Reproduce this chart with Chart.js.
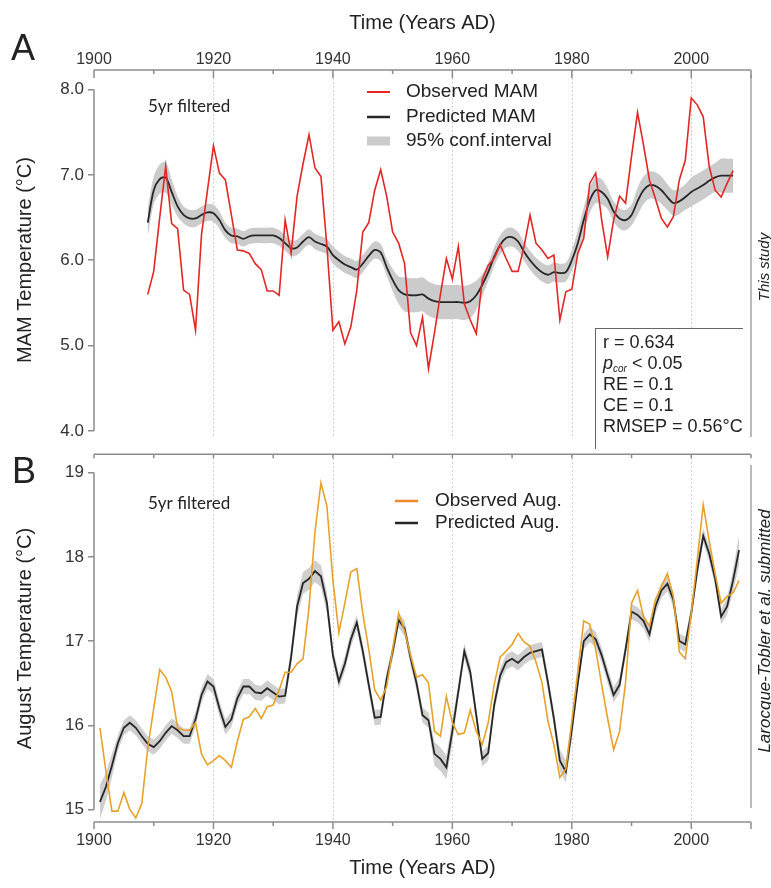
<!DOCTYPE html>
<html><head><meta charset="utf-8">
<script src="https://cdn.jsdelivr.net/npm/chart.js@4.4.1/dist/chart.umd.min.js"></script>
<style>
html,body{margin:0;padding:0;background:#fff;}
#wrap{position:relative;width:771px;height:888px;overflow:hidden;background:#fff;}
canvas{position:absolute;left:0;}
#cA{top:0;width:771px;height:450px;}
#cB{top:440px;width:771px;height:448px;}
</style></head><body>
<div id="wrap"><canvas id="cA" width="771" height="450"></canvas><canvas id="cB" width="771" height="448"></canvas></div>
<script>
// ---------- DATA ----------
const yearsA = [1909,1910,1911,1912,1913,1914,1915,1916,1917,1918,1919,1920,1921,1922,1923,1924,1925,1926,1927,1928,1929,1930,1931,1932,1933,1934,1935,1936,1937,1938,1939,1940,1941,1942,1943,1944,1945,1946,1947,1948,1949,1950,1951,1952,1953,1954,1955,1956,1957,1958,1959,1960,1961,1962,1963,1964,1965,1966,1967,1968,1969,1970,1971,1972,1973,1974,1975,1976,1977,1978,1979,1980,1981,1982,1983,1984,1985,1986,1987,1988,1989,1990,1991,1992,1993,1994,1995,1996,1997,1998,1999,2000,2001,2002,2003,2004,2005,2006,2007];
const observedMAM = [5.60,
 5.87,6.50,7.10,6.43,6.37,5.65,5.60,5.18,6.30,6.82,
 7.34,7.02,6.94,6.53,6.12,6.11,6.08,5.96,5.89,5.64,
 5.64,5.59,6.47,6.08,6.75,7.13,7.47,7.08,6.98,6.16,
 5.18,5.28,5.02,5.22,5.65,6.33,6.44,6.82,7.06,6.75,
 6.33,6.20,5.96,5.15,5.00,5.33,4.73,5.15,5.60,6.02,
 5.78,6.16,5.49,5.30,5.14,5.77,5.94,6.02,6.18,6.02,
 5.87,5.87,6.16,6.53,6.20,6.12,6.02,6.06,5.30,5.63,
 5.66,6.08,6.26,6.90,7.02,6.47,6.04,6.47,6.75,6.67,
 7.22,7.73,7.35,6.94,6.72,6.49,6.39,6.51,6.94,7.17,
 7.90,7.82,7.68,7.10,6.82,6.74,6.90,7.05];
const predictedMAM = [6.44,
 6.82,6.95,6.97,6.80,6.63,6.53,6.49,6.49,6.53,6.56,
 6.55,6.47,6.35,6.29,6.28,6.25,6.28,6.29,6.29,6.29,
 6.29,6.26,6.20,6.14,6.15,6.22,6.27,6.22,6.19,6.16,
 6.06,6.00,5.95,5.92,5.89,5.96,6.05,6.12,6.09,5.92,
 5.77,5.65,5.60,5.59,5.59,5.60,5.55,5.52,5.51,5.51,
 5.51,5.51,5.50,5.52,5.59,5.71,5.86,6.04,6.18,6.26,
 6.27,6.22,6.10,6.00,5.92,5.86,5.83,5.86,5.85,5.86,
 6.00,6.20,6.47,6.70,6.82,6.80,6.72,6.57,6.49,6.47,
 6.53,6.69,6.82,6.88,6.87,6.82,6.74,6.67,6.69,6.74,
 6.80,6.84,6.88,6.93,6.97,6.99,6.99,6.99];
// half-width of the 95% band
const ciHalfMAM = [0.17,
 0.16,0.17,0.18,0.15,0.12,0.10,0.10,0.10,0.10,0.10,
 0.10,0.10,0.09,0.09,0.09,0.09,0.09,0.09,0.09,0.09,
 0.09,0.09,0.09,0.09,0.09,0.09,0.09,0.09,0.09,0.09,
 0.10,0.10,0.10,0.10,0.10,0.10,0.10,0.10,0.10,0.10,
 0.13,0.16,0.20,0.20,0.20,0.20,0.20,0.20,0.20,0.20,
 0.20,0.20,0.20,0.20,0.17,0.13,0.11,0.11,0.11,0.11,
 0.11,0.11,0.11,0.11,0.11,0.11,0.11,0.11,0.11,0.11,
 0.12,0.15,0.15,0.15,0.15,0.15,0.12,0.12,0.12,0.12,
 0.12,0.16,0.16,0.16,0.16,0.16,0.15,0.15,0.15,0.15,
 0.17,0.17,0.17,0.17,0.17,0.20,0.20,0.20];

const yearsB = [1901,1902,1903,1904,1905,1906,1907,1908,1909,1910,1911,1912,1913,1914,1915,1916,1917,1918,1919,1920,1921,1922,1923,1924,1925,1926,1927,1928,1929,1930,1931,1932,1933,1934,1935,1936,1937,1938,1939,1940,1941,1942,1943,1944,1945,1946,1947,1948,1949,1950,1951,1952,1953,1954,1955,1956,1957,1958,1959,1960,1961,1962,1963,1964,1965,1966,1967,1968,1969,1970,1971,1972,1973,1974,1975,1976,1977,1978,1979,1980,1981,1982,1983,1984,1985,1986,1987,1988,1989,1990,1991,1992,1993,1994,1995,1996,1997,1998,1999,2000,2001,2002,2003,2004,2005,2006,2007,2008];
const observedAug = [15.97,15.45,14.98,14.98,15.20,15.00,14.90,15.07,15.73,
 16.20,16.66,16.57,16.40,15.97,15.94,15.94,16.03,15.66,15.53,
 15.58,15.64,15.58,15.50,15.81,16.07,16.10,16.20,16.08,16.22,
 16.24,16.42,16.63,16.63,16.73,16.79,17.40,18.30,18.88,18.60,
 17.72,17.10,17.45,17.82,17.86,17.33,16.90,16.42,16.30,16.46,
 16.90,17.33,17.12,16.83,16.57,16.60,16.50,15.93,15.87,16.34,
 16.03,15.89,15.91,16.18,15.93,15.77,16.03,16.48,16.81,16.88,
 16.96,17.09,16.99,16.94,16.75,16.51,16.05,15.77,15.38,15.48,
 16.05,16.64,17.24,17.20,16.90,16.48,16.08,15.71,15.93,16.51,
 17.45,17.60,17.29,17.18,17.49,17.65,17.80,17.53,16.87,16.79,
 17.33,17.96,18.62,18.19,17.80,17.45,17.53,17.57,17.72];
const predictedAug = [15.09,15.27,15.52,15.79,15.97,16.03,15.97,15.87,15.78,
 15.74,15.81,15.91,15.99,15.94,15.87,15.87,16.07,16.36,16.52,
 16.46,16.20,15.98,16.07,16.32,16.46,16.46,16.39,16.38,16.44,
 16.39,16.34,16.35,16.81,17.41,17.69,17.74,17.83,17.77,17.45,
 16.83,16.52,16.73,17.02,17.22,16.88,16.48,16.09,16.10,16.55,
 16.87,17.25,17.15,16.80,16.50,16.12,16.06,15.66,15.60,15.50,
 15.93,16.40,16.88,16.63,16.12,15.60,15.67,16.24,16.59,16.75,
 16.79,16.74,16.81,16.86,16.88,16.90,16.51,16.08,15.58,15.45,
 15.95,16.50,17.00,17.08,17.02,16.83,16.59,16.36,16.48,16.90,
 17.35,17.31,17.24,17.08,17.41,17.60,17.68,17.49,17.00,16.96,
 17.33,17.84,18.25,18.04,17.74,17.29,17.41,17.72,18.08];
const ciHalfAug = [0.20,0.17,0.14,0.09,0.09,0.09,0.09,0.09,0.09,
 0.09,0.09,0.09,0.09,0.09,0.09,0.09,0.09,0.09,0.09,
 0.09,0.09,0.09,0.09,0.09,0.09,0.09,0.09,0.09,0.09,
 0.09,0.09,0.09,0.10,0.13,0.13,0.13,0.13,0.13,0.13,
 0.09,0.09,0.09,0.09,0.09,0.09,0.09,0.09,0.09,0.09,
 0.09,0.09,0.09,0.09,0.09,0.09,0.09,0.14,0.14,0.14,
 0.14,0.09,0.09,0.09,0.09,0.09,0.09,0.09,0.09,0.09,
 0.09,0.09,0.09,0.09,0.09,0.09,0.09,0.09,0.13,0.13,
 0.13,0.09,0.09,0.09,0.09,0.09,0.09,0.09,0.09,0.09,
 0.09,0.09,0.09,0.09,0.09,0.09,0.09,0.09,0.09,0.09,
 0.09,0.09,0.09,0.09,0.09,0.09,0.10,0.13,0.18];

const tickYears = [1900,1910,1920,1930,1940,1950,1960,1970,1980,1990,2000,2010];
const labelYears = [1900,1920,1940,1960,1980,2000];
const gridYears = [1920,1940,1960,1980,2000];
const ticksMAM = [4,5,6,7,8];
const ticksAug = [15,16,17,18,19];
const statsText = ['r = 0.634', 'p|cor| < 0.05', 'RE = 0.1', 'CE = 0.1', 'RMSEP = 0.56°C'];

// ---------- helpers ----------
const SANS = "'Liberation Sans', Arial, Helvetica, sans-serif";
const AX = '#8c8c8c';
const pts = (xs, ys) => xs.map((x, i) => ({x: x, y: ys[i]}));
const add = (a, b, s) => a.map((v, i) => v + s * b[i]);
function line(ctx,x1,y1,x2,y2,color,w,dash){ctx.save();ctx.beginPath();ctx.strokeStyle=color;ctx.lineWidth=w;ctx.setLineDash(dash||[]);ctx.moveTo(x1,y1);ctx.lineTo(x2,y2);ctx.stroke();ctx.restore();}
function text(ctx,s,x,y,font,color,align,baseline){ctx.save();ctx.font=font;ctx.fillStyle=color;ctx.textAlign=align||'left';ctx.textBaseline=baseline||'middle';ctx.fillText(s,x,y);ctx.restore();}
function vtext(ctx,s,x,y,font,color){ctx.save();ctx.translate(x,y);ctx.rotate(-Math.PI/2);ctx.font=font;ctx.fillStyle=color;ctx.textAlign='center';ctx.textBaseline='middle';ctx.fillText(s,0,0);ctx.restore();}
function drawGrid(chart, y0, y1){
  const {ctx, scales:{x}} = chart;
  gridYears.forEach(yr => { const px = Math.round(x.getPixelForValue(yr)) + 0.5; line(ctx, px, y0, px, y1, '#c4c4c4', 1, [1.5, 2.5]); });
}

const decoA = {
  id: 'decoA',
  beforeDatasetsDraw(chart){ const a = chart.chartArea; drawGrid(chart, a.top, a.bottom + 6); },
  afterDraw(chart){
    const {ctx, chartArea:a, scales:{x, y}} = chart;
    line(ctx, a.left, a.top, a.right, a.top, AX, 1.5);
    tickYears.forEach(yr => { const px = x.getPixelForValue(yr); const len = (labelYears.includes(yr) || yr === 2010) ? 8 : 4; line(ctx, px, a.top, px, a.top + len, AX, 1.5); });
    line(ctx, a.left, y.getPixelForValue(8), a.left, y.getPixelForValue(4), AX, 1.5);
    line(ctx, a.right, 75, a.right, 437, AX, 1.2);
    text(ctx, 'A', 23, 60, '36px ' + SANS, '#222', 'center', 'alphabetic');
    vtext(ctx, 'MAM Temperature (°C)', 25, 260, '20px ' + SANS, '#222');
    text(ctx, '5yr filtered', 148, 107, "17px Lato, 'Open Sans', sans-serif", '#222');
    // legend
    const ds = chart.data.datasets;
    line(ctx, 367, 92, 390, 92, ds[0].borderColor, 2);
    text(ctx, ds[0].label, 406, 92, '19px ' + SANS, '#222');
    line(ctx, 367, 117, 390, 117, ds[1].borderColor, 2.5);
    text(ctx, ds[1].label, 406, 117, '19px ' + SANS, '#222');
    line(ctx, 367, 141, 390, 141, ds[2].backgroundColor, 9);
    text(ctx, ds[2].label, 406, 141, '19px ' + SANS, '#222');
    // stats box
    ctx.save(); ctx.fillStyle = '#fff'; ctx.fillRect(596, 329, 154, 120); ctx.restore();
    line(ctx, 595.5, 328, 595.5, 449, '#666', 1);
    line(ctx, 595, 328.5, 743, 328.5, '#666', 1);
    const sy = [343, 364, 385, 406, 427];
    statsText.forEach((s, i) => {
      if (s.includes('|')) {
        const [p, sub, rest] = s.split('|');
        ctx.save(); ctx.font = 'italic 18px ' + SANS; const w1 = ctx.measureText(p).width; ctx.restore();
        text(ctx, p, 603, sy[i], 'italic 18px ' + SANS, '#222');
        text(ctx, sub, 603 + w1, sy[i] + 5, 'italic 10px ' + SANS, '#222');
        ctx.save(); ctx.font = 'italic 10px ' + SANS; const w2 = ctx.measureText(sub).width; ctx.restore();
        text(ctx, rest, 603 + w1 + w2, sy[i], '18px ' + SANS, '#222');
      } else {
        text(ctx, s, 603, sy[i], '18px ' + SANS, '#222');
      }
    });
    vtext(ctx, 'This study', 765, 267, 'italic 15px ' + SANS, '#222');
  }
};

const decoB = {
  id: 'decoB',
  beforeDatasetsDraw(chart){ const a = chart.chartArea; drawGrid(chart, a.top, a.bottom); },
  afterDraw(chart){
    const {ctx, chartArea:a, scales:{x, y}} = chart;
    line(ctx, a.left, a.top, a.right, a.top, AX, 1.5);
    tickYears.forEach(yr => { const px = x.getPixelForValue(yr); line(ctx, px, a.top, px, a.top + 4, AX, 1.5); });
    line(ctx, a.left, a.bottom, a.right, a.bottom, AX, 1.5);
    tickYears.forEach(yr => { const px = x.getPixelForValue(yr); const len = (labelYears.includes(yr) || yr === 2010) ? 7 : 4; line(ctx, px, a.bottom, px, a.bottom + len, AX, 1.5); });
    line(ctx, a.left, y.getPixelForValue(19), a.left, y.getPixelForValue(15), AX, 1.5);
    line(ctx, a.right, 25, a.right, 368, AX, 1.2);
    text(ctx, 'B', 24, 43, '36px ' + SANS, '#222', 'center', 'alphabetic');
    vtext(ctx, 'August Temperature (°C)', 25, 198.5, '20px ' + SANS, '#222');
    text(ctx, '5yr filtered', 148, 64, "17px Lato, 'Open Sans', sans-serif", '#222');
    const ds = chart.data.datasets;
    line(ctx, 395, 61, 418, 61, '#ec8a2c', 2.5);
    text(ctx, ds[0].label, 435, 61, '19px ' + SANS, '#222');
    line(ctx, 395, 83, 418, 83, ds[1].borderColor, 2.5);
    text(ctx, ds[1].label, 435, 83, '19px ' + SANS, '#222');
    vtext(ctx, 'Larocque-Tobler et al. submitted', 765, 191, 'italic 17px ' + SANS, '#222');
  }
};

function xScale(pos, height, padding){
  return {
    type: 'linear', position: pos, min: 1900, max: 2010,
    afterFit(s){ s.height = height; },
    afterBuildTicks(s){ s.ticks = tickYears.map(v => ({value: v})); },
    ticks: { callback: v => labelYears.includes(v) ? String(v) : '', font: {family: SANS, size: 16}, color: '#333', maxRotation: 0, minRotation: 0, autoSkip: false, padding: padding },
    grid: { display: false, drawTicks: false },
    border: { display: false },
    title: { display: true, text: 'Time (Years AD)', font: {family: SANS, size: 20}, color: '#222', padding: pos === 'top' ? {top: 11, bottom: 0} : {top: 0, bottom: 8} }
  };
}
function yScale(min, max, tickVals, fmt){
  return {
    min: min, max: max,
    afterFit(s){ s.width = 94; },
    afterBuildTicks(s){ s.ticks = tickVals.map(v => ({value: v})); },
    ticks: { callback: fmt, font: {family: SANS, size: 17}, color: '#333', padding: 4 },
    grid: { drawOnChartArea: false, drawTicks: true, tickLength: 6, color: AX, lineWidth: 1.5 },
    border: { display: false }
  };
}

new Chart(document.getElementById('cA'), {
  type: 'line',
  data: { datasets: [
    {label: 'Observed MAM', data: pts(yearsA, observedMAM), borderColor: '#e32626', borderWidth: 1.6, pointRadius: 0, tension: 0, fill: false},
    {label: 'Predicted MAM', data: pts(yearsA, predictedMAM), borderColor: '#262626', borderWidth: 1.8, pointRadius: 0, tension: 0.3, fill: false},
    {label: '95% conf.interval', data: pts(yearsA, add(predictedMAM, ciHalfMAM, 1)), borderWidth: 0, borderColor: 'rgba(0,0,0,0)', backgroundColor: '#cbcbcb', pointRadius: 0, tension: 0.3, fill: '+1'},
    {label: 'lower', data: pts(yearsA, add(predictedMAM, ciHalfMAM, -1)), borderWidth: 0, borderColor: 'rgba(0,0,0,0)', pointRadius: 0, tension: 0.3, fill: false}
  ]},
  options: {
    responsive: false, animation: false, devicePixelRatio: 1,
    layout: { padding: {top: 0, left: 0, right: 20, bottom: 19} },
    plugins: { legend: {display: false}, tooltip: {enabled: false} },
    scales: { x: xScale('top', 70, 1), y: yScale(4, 8.228, ticksMAM, v => Number(v).toFixed(1)) }
  },
  plugins: [decoA]
});

new Chart(document.getElementById('cB'), {
  type: 'line',
  data: { datasets: [
    {label: 'Observed Aug.', data: pts(yearsB, observedAug), borderColor: '#e7a22b', borderWidth: 1.6, pointRadius: 0, tension: 0, fill: false},
    {label: 'Predicted Aug.', data: pts(yearsB, predictedAug), borderColor: '#262626', borderWidth: 1.8, pointRadius: 0, tension: 0, fill: false},
    {label: 'upper', data: pts(yearsB, add(predictedAug, ciHalfAug, 1)), borderWidth: 0, borderColor: 'rgba(0,0,0,0)', backgroundColor: '#cfcfcf', pointRadius: 0, tension: 0, fill: '+1'},
    {label: 'lower', data: pts(yearsB, add(predictedAug, ciHalfAug, -1)), borderWidth: 0, borderColor: 'rgba(0,0,0,0)', pointRadius: 0, tension: 0, fill: false}
  ]},
  options: {
    responsive: false, animation: false, devicePixelRatio: 1,
    layout: { padding: {top: 9, left: 0, right: 20, bottom: 0} },
    plugins: { legend: {display: false}, tooltip: {enabled: false} },
    scales: { x: xScale('bottom', 66, 9), y: yScale(14.851, 19.219, ticksAug, v => String(v)) }
  },
  plugins: [decoB]
});
</script>
</body></html>
